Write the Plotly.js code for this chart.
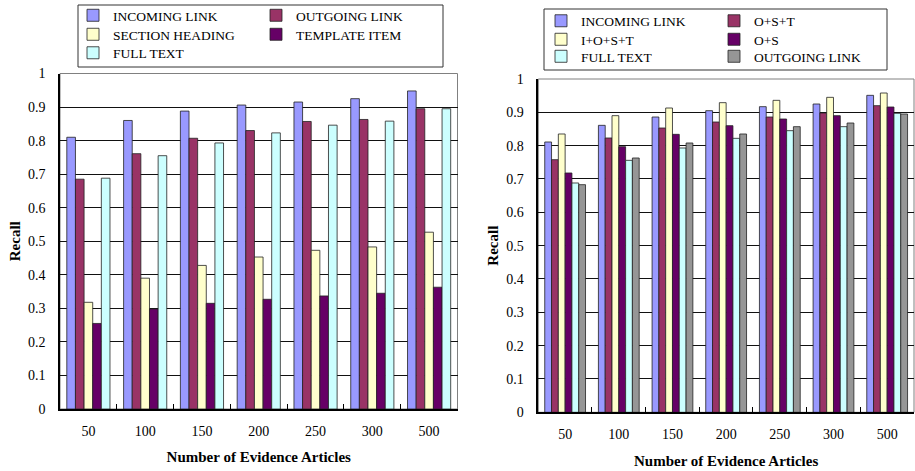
<!DOCTYPE html>
<html>
<head>
<meta charset="utf-8">
<script src="https://cdn.plot.ly/plotly-3.0.1.min.js"></script>
<style>html,body{margin:0;padding:0;background:#fff;}#chart{width:915px;height:471px;}</style>
</head>
<body>
<div id="chart"></div>
<script>
// ---- data ----
const categories = ['50', '100', '150', '200', '250', '300', '500'];

// left chart
const leftNames = ['INCOMING LINK', 'OUTGOING LINK', 'SECTION HEADING', 'TEMPLATE ITEM', 'FULL TEXT'];
const incomingLeft = [0.81, 0.86, 0.888, 0.906, 0.915, 0.925, 0.948];
const outgoingLeft = [0.685, 0.761, 0.807, 0.83, 0.857, 0.863, 0.895];
const sectionLeft = [0.318, 0.39, 0.428, 0.453, 0.473, 0.483, 0.527];
const templateLeft = [0.255, 0.298, 0.315, 0.327, 0.337, 0.345, 0.363];
const fullTextLeft = [0.688, 0.755, 0.793, 0.823, 0.846, 0.858, 0.895];

// right chart
const rightNames = ['INCOMING LINK', 'O+S+T', 'I+O+S+T', 'O+S', 'FULL TEXT', 'OUTGOING LINK'];
const incomingRight = [0.811, 0.861, 0.886, 0.905, 0.917, 0.925, 0.951];
const ostRight = [0.758, 0.823, 0.853, 0.871, 0.886, 0.898, 0.92];
const iostRight = [0.835, 0.89, 0.913, 0.929, 0.936, 0.945, 0.958];
const osRight = [0.718, 0.797, 0.834, 0.86, 0.88, 0.89, 0.916];
const fullTextRight = [0.688, 0.756, 0.793, 0.822, 0.845, 0.857, 0.897];
const outgoingRight = [0.683, 0.763, 0.808, 0.835, 0.857, 0.868, 0.895];

const xTitle = 'Number of Evidence Articles';
const yTitle = 'Recall';

// ---- styles ----
const C = {
  incoming: '#9999FF', plum: '#993366', yellow: '#FFFFCC',
  purple: '#660066', cyan: '#CCFFFF', gray: '#969696'
};
const FONT = 'Liberation Serif';
const W = 915, H = 471;
const px = v => v / W;
const py = v => (H - v) / H;

const leftSeries = [incomingLeft, outgoingLeft, sectionLeft, templateLeft, fullTextLeft];
const leftColors = [C.incoming, C.plum, C.yellow, C.purple, C.cyan];
// legend entry anchor (text-left x, row centre y) in pixels
const leftLegendX = [73, 256, 73, 256, 73];
const leftLegendY = [15.5, 15.5, 34.5, 34.5, 53];

const rightSeries = [incomingRight, ostRight, iostRight, osRight, fullTextRight, outgoingRight];
const rightColors = [C.incoming, C.plum, C.yellow, C.purple, C.cyan, C.gray];
const rightLegendX = [541, 714, 541, 714, 541, 714];
const rightLegendY = [21, 21, 39.5, 39.5, 56.5, 56.5];

const traces = [];
const layoutLegends = {};
let legendCount = 0;

function legendAt(xPix, yPix) {
  return {
    x: px(xPix), y: py(yPix), xref: 'paper', yref: 'paper', xanchor: 'left', yanchor: 'middle',
    orientation: 'v', bgcolor: 'rgba(0,0,0,0)', borderwidth: 0,
    font: {family: FONT, size: 13.5, color: '#000'},
    itemclick: false, itemdoubleclick: false
  };
}

function addBar(name, y, color, xa, ya, lx, ly) {
  legendCount += 1;
  const key = legendCount === 1 ? 'legend' : 'legend' + legendCount;
  layoutLegends[key] = legendAt(lx, ly);
  traces.push({
    type: 'bar', name: name, x: categories, y: y,
    xaxis: xa, yaxis: ya, legend: key,
    marker: {color: color, line: {color: '#222', width: 0.8}},
    hoverinfo: 'x+y+name'
  });
}

leftSeries.forEach((s, i) => addBar(leftNames[i], s, leftColors[i], 'x', 'y', leftLegendX[i], leftLegendY[i]));
rightSeries.forEach((s, i) => addBar(rightNames[i], s, rightColors[i], 'x2', 'y2', rightLegendX[i], rightLegendY[i]));

function xaxis(domain, anchor) {
  return {
    domain: domain, anchor: anchor, type: 'category',
    showline: true, linecolor: '#000', linewidth: 2,
    ticks: 'inside', tickson: 'boundaries', ticklen: 5, tickcolor: '#000',
    ticklabelstandoff: 8,
    tickfont: {family: FONT, size: 14, color: '#000'},
    showgrid: false, zeroline: false, fixedrange: true,
    title: {text: xTitle, font: {family: FONT, size: 15, color: '#000', weight: 'bold'}, standoff: 14}
  };
}
function yaxis(domain, anchor) {
  return {
    domain: domain, anchor: anchor, range: [0, 1],
    dtick: 0.1, tick0: 0,
    showline: true, linecolor: '#000', linewidth: 1.5,
    ticks: '', ticklabelstandoff: 10,
    tickfont: {family: FONT, size: 14, color: '#000'},
    showgrid: true, gridcolor: '#111', gridwidth: 1,
    zeroline: false, fixedrange: true,
    title: {text: yTitle, font: {family: FONT, size: 15, color: '#000', weight: 'bold'}, standoff: 4}
  };
}

const layout = Object.assign({
  width: W, height: H,
  margin: {l: 0, r: 0, t: 0, b: 0},
  font: {family: FONT, color: '#000'},
  paper_bgcolor: '#fff', plot_bgcolor: '#fff',
  barmode: 'group', bargap: 0.24, bargroupgap: 0,
  showlegend: true,
  xaxis: xaxis([px(60), px(457.5)], 'y'),
  yaxis: yaxis([py(409), py(73.5)], 'x'),
  xaxis2: xaxis([px(538.3), px(914)], 'y2'),
  yaxis2: yaxis([py(412.3), py(79)], 'x2'),
  shapes: [
    {type: 'rect', xref: 'x domain', yref: 'y domain', x0: 0, x1: 1, y0: 0, y1: 1,
      line: {color: '#808080', width: 1}, layer: 'below'},
    {type: 'rect', xref: 'x2 domain', yref: 'y2 domain', x0: 0, x1: 1, y0: 0, y1: 1,
      line: {color: '#808080', width: 1}, layer: 'below'},
    {type: 'rect', xref: 'paper', yref: 'paper', x0: px(78), x1: px(443), y0: py(67), y1: py(5),
      line: {color: '#333', width: 1}},
    {type: 'rect', xref: 'paper', yref: 'paper', x0: px(544), x1: px(887), y0: py(70), y1: py(9),
      line: {color: '#333', width: 1}}
  ]
}, layoutLegends);

Plotly.newPlot('chart', traces, layout, {displayModeBar: false});
</script>
</body>
</html>
